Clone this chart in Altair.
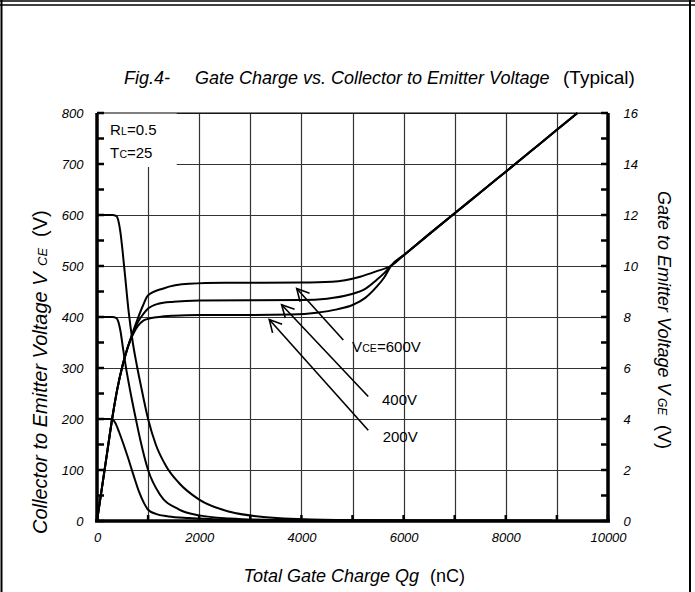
import math
import altair as alt
import pandas as pd

# ---------------- values ----------------
# Collector-emitter voltage VCE (V) versus total gate charge Qg (nC)
vce600_q = [0, 300, 380, 420, 460, 500, 550, 620, 700, 780, 860, 1000, 1150, 1350, 1600, 2000, 2600, 3250, 4200, 5500, 7000, 8900]
vce600_v = [600, 600, 598, 588, 565, 530, 480, 410, 350, 305, 265, 200, 150, 108, 75, 42, 18, 8, 3, 1.5, 1, 0.5]
vce400_q = [0, 300, 380, 420, 460, 500, 560, 650, 750, 850, 1000, 1230, 1600, 2000, 2600, 3500, 5000, 7000, 8900]
vce400_v = [400, 400, 398, 390, 372, 345, 305, 255, 205, 158, 100, 52, 23, 11, 5, 2, 1, 0.5, 0.3]
vce200_q = [0, 250, 320, 370, 430, 520, 620, 720, 820, 920, 1000, 1150, 1400, 1800, 2500, 3500, 5000, 7000, 8900]
vce200_v = [200, 200, 198, 190, 175, 150, 120, 88, 58, 35, 22, 14, 9, 6, 3, 1.5, 1, 0.5, 0.3]

# Gate-emitter voltage VGE (V) versus total gate charge Qg (nC)
vge200_q = [0, 100, 200, 300, 400, 500, 600, 700, 800, 900, 1000, 1200, 1500, 2000, 3000, 3800, 4300, 4700, 5000, 5250, 5470, 5620, 5760,
            6000, 6500, 7000, 7500, 8000, 8500, 9000, 9400]
vge200_v = [0, 1.35, 2.7, 4.05, 5.2, 6.1, 6.8, 7.3, 7.65, 7.85, 7.93, 8.0, 8.05, 8.08, 8.08, 8.1, 8.17, 8.3, 8.47, 8.75, 9.18, 9.55, 10.02,
            10.42, 11.25, 12.07, 12.88, 13.7, 14.52, 15.34, 16.0]
vge400_q = [0, 100, 200, 300, 400, 500, 600, 700, 800, 900, 1000, 1200, 1500, 2000, 3000, 4000, 4500, 4950, 5250, 5470, 5620, 5760,
            6000, 6500, 7000, 7500, 8000, 8500, 9000, 9400]
vge400_v = [0, 1.35, 2.7, 4.05, 5.2, 6.1, 6.8, 7.35, 7.8, 8.1, 8.33, 8.52, 8.6, 8.65, 8.66, 8.67, 8.72, 8.88, 9.1, 9.45, 9.72, 10.02,
            10.42, 11.25, 12.07, 12.88, 13.7, 14.52, 15.34, 16.0]
vge600_q = [0, 100, 200, 300, 400, 500, 600, 700, 800, 900, 1000, 1300, 1800, 2500, 4000, 4600, 5150, 5450, 5760,
            6000, 6500, 7000, 7500, 8000, 8500, 9000, 9400]
vge600_v = [0, 1.35, 2.7, 4.05, 5.2, 6.1, 6.8, 7.4, 7.95, 8.45, 8.85, 9.12, 9.3, 9.34, 9.35, 9.38, 9.58, 9.78, 10.02,
            10.42, 11.25, 12.07, 12.88, 13.7, 14.52, 15.34, 16.0]

# Annotation arrows (VCE axis units): tip on the VGE curve, tail near the label
arrow_tip_q = [3908, 3613, 3371]
arrow_tip_v = [456, 424, 395]
arrow_tail_q = [4820, 5308, 5308]
arrow_tail_v = [355, 244, 178]
label_q = [4990, 5577, 5590]
label_v = [341, 237, 165]
label_text = ["V", "400V", "200V"]

# Axis ticks
x_grid = list(range(0, 10001, 1000))
y_grid = list(range(0, 801, 100))
y2_labels = list(range(0, 17, 2))
left_tick_v = list(range(0, 801, 50))
right_tick_v = list(range(0, 17, 1))
bottom_tick_q = list(range(0, 10001, 1000))

# ---------------- chart ----------------
W, H = 511, 408
FONT = "Liberation Sans"


def frame(qs, vs, name):
    return pd.DataFrame({"q": qs, "v": vs, "curve": name})


vce_df = pd.concat([frame(vce600_q, vce600_v, "600"), frame(vce400_q, vce400_v, "400"),
                    frame(vce200_q, vce200_v, "200")])
vge_df = pd.concat([frame(vge600_q, vge600_v, "600"), frame(vge400_q, vge400_v, "400"),
                    frame(vge200_q, vge200_v, "200")])

arr = pd.DataFrame({"tq": arrow_tip_q, "tv": arrow_tip_v, "sq": arrow_tail_q, "sv": arrow_tail_v})
arr["ang"] = [
    math.degrees(math.atan2((a - c) * W / 10000, (b - d) * H / 800)) % 360
    for a, b, c, d in zip(arr.tq, arr.tv, arr.sq, arr.sv)
]
lab = pd.DataFrame({"q": label_q, "v": label_v, "t": label_text})

xsc = alt.Scale(domain=[0, 10000], nice=False, zero=False)
ysc = alt.Scale(domain=[0, 800], nice=False, zero=False)
ysc2 = alt.Scale(domain=[0, 16], nice=False, zero=False)

x_axis = alt.Axis(values=x_grid, grid=True, gridColor="#333333", gridWidth=1.2, domain=False, ticks=False,
                  labelExpr="datum.value % 2000 == 0 ? format(datum.value, 'd') : ''",
                  labelFont=FONT, labelFontSize=13, labelFontStyle="italic", labelColor="black",
                  labelPadding=10, labelFlush=False, labelOverlap=False, title=None, orient="bottom")
y_axis = alt.Axis(values=y_grid, grid=True, gridColor="#333333", gridWidth=1.2, domain=False, ticks=False,
                  format="d", labelFont=FONT, labelFontSize=13, labelFontStyle="italic", labelColor="black",
                  labelPadding=14, labelFlush=False, labelOverlap=False, title=None, orient="left")
y2_axis = alt.Axis(values=y2_labels, grid=False, domain=False, ticks=False, format="d",
                   labelFont=FONT, labelFontSize=13, labelFontStyle="italic", labelColor="black",
                   labelPadding=15, labelFlush=False, labelOverlap=False, title=None, orient="right")


def X(field):
    return alt.X(field, scale=xsc, axis=x_axis)


one = pd.DataFrame({"a": [0]})

box = alt.Chart(pd.DataFrame({"q1": [0], "q2": [1560], "v1": [694], "v2": [800]})).mark_rect(
    fill="white", strokeWidth=0).encode(
    x=X("q1:Q"), x2="q2:Q",
    y=alt.Y("v1:Q", scale=ysc, axis=y_axis), y2="v2:Q")

vce_lines = alt.Chart(vce_df).mark_line(color="black", strokeWidth=2, interpolate="monotone").encode(
    x=X("q:Q"), y=alt.Y("v:Q", scale=ysc, axis=None), detail="curve:N")

vge_lines = alt.Chart(vge_df).mark_line(color="black", strokeWidth=2, interpolate="monotone").encode(
    x=X("q:Q"), y=alt.Y("v:Q", scale=ysc2, axis=y2_axis), detail="curve:N")

shafts = alt.Chart(arr).mark_rule(color="black", strokeWidth=1.6).encode(
    x=X("sq:Q"), x2="tq:Q",
    y=alt.Y("sv:Q", scale=ysc, axis=None), y2="tv:Q")

heads = alt.Chart(arr).mark_point(shape="M-0.5,0.95L0,0L0.5,0.95", filled=False, color="black",
                                  strokeWidth=1.6, size=650, opacity=1).encode(
    x=X("tq:Q"), y=alt.Y("tv:Q", scale=ysc, axis=None),
    angle=alt.Angle("ang:Q", scale=None))

lab_main = alt.Chart(lab).mark_text(font=FONT, fontSize=15, align="left", baseline="alphabetic", dy=5,
                                    color="black").encode(
    x=X("q:Q"), y=alt.Y("v:Q", scale=ysc, axis=None), text="t:N")
lab_sub = alt.Chart(lab.iloc[[0]]).mark_text(font=FONT, fontSize=10.5, align="left", baseline="alphabetic",
                                             dx=10.2, dy=5, color="black", text="CE").encode(
    x=X("q:Q"), y=alt.Y("v:Q", scale=ysc, axis=None))
lab_rest = alt.Chart(lab.iloc[[0]]).mark_text(font=FONT, fontSize=15, align="left", baseline="alphabetic",
                                              dx=25, dy=5, color="black", text="=600V").encode(
    x=X("q:Q"), y=alt.Y("v:Q", scale=ysc, axis=None))


def txt(t, x, y, size=15, style="normal", align="left", angle=0, baseline="alphabetic"):
    kw = dict(font=FONT, fontSize=size, fontStyle=style, align=align, baseline=baseline,
              color="black", text=t)
    if angle:
        kw["angle"] = angle
    return alt.Chart(one).mark_text(**kw).encode(x=alt.value(x), y=alt.value(y))


texts = [
    # RL=0.5 / Tc=25 annotation
    txt("R", 13, 22), txt("L", 24, 22, size=10.5), txt("=0.5", 30, 22),
    txt("T", 13, 45), txt("C", 22.5, 45, size=10.5), txt("=25", 30, 45),
    # chart title
    txt("Fig.4-", 27, -29, size=18, style="italic"),
    txt("Gate Charge vs. Collector to Emitter Voltage", 98, -29, size=18, style="italic"),
    txt("(Typical)", 466, -29, size=19),
    # x title
    txt("Total Gate Charge Qg", 322, 469, size=18, style="italic", align="right"),
    txt("(nC)", 333, 469, size=18),
    # left title (reads upward)
    txt("Collector to Emitter Voltage V", -50, 421, size=20, style="italic", angle=270),
    txt("CE", -50, 421 - 268, size=13, style="italic", angle=270),
    txt("(V)", -50, 421 - 297, size=20, angle=270),
    # right title (reads downward)
    txt("Gate to Emitter Voltage V", 561, 78, size=18, style="italic", angle=90),
    txt("GE", 561, 78 + 207, size=12, style="italic", angle=90),
    txt("(V)", 561, 78 + 234, size=18, angle=90),
]


def rule(x=None, x2=None, y=None, y2=None, width=1.0):
    enc = {}
    for k, v in (("x", x), ("x2", x2), ("y", y), ("y2", y2)):
        if v is not None:
            enc[k] = alt.value(v)
    return alt.Chart(one).mark_rule(color="black", strokeWidth=width).encode(**enc)


frame_rules = [
    rule(x=0, y=0, y2=H, width=3.5),
    rule(x=W, y=0, y2=H, width=3.5),
    rule(x=-2, x2=W + 2, y=H, width=3.5),
    rule(x=0, x2=W, y=0, width=1.2),
    # outer border of the figure box
    rule(x=-95.5, y=-113, y2=479, width=2),
    rule(x=593, y=-113, y2=479, width=2),
    rule(x=-97, x2=598, y=-112, width=1.5),
    rule(x=-97, x2=598, y=-108, width=1.5),
]

left_ticks = alt.Chart(pd.DataFrame({"v": left_tick_v})).mark_rule(color="black", strokeWidth=2.5).encode(
    y=alt.Y("v:Q", scale=ysc, axis=None), x=alt.value(0), x2=alt.value(7))
right_ticks = alt.Chart(pd.DataFrame({"v": right_tick_v})).mark_rule(color="black", strokeWidth=2.5).encode(
    y=alt.Y("v:Q", scale=ysc2, axis=None), x=alt.value(W - 7), x2=alt.value(W))
bottom_ticks = alt.Chart(pd.DataFrame({"q": bottom_tick_q})).mark_rule(color="black", strokeWidth=2.5).encode(
    x=X("q:Q"), y=alt.value(H - 6), y2=alt.value(H))

chart = alt.layer(
    box, vce_lines, vge_lines, shafts, heads, lab_main, lab_sub, lab_rest,
    *texts, *frame_rules, left_ticks, right_ticks, bottom_ticks
).resolve_scale(y="independent").properties(
    width=W, height=H,
    autosize=alt.AutoSizeParams(type="none"),
    padding={"left": 97, "top": 113, "right": 87, "bottom": 71},
    background="white",
).configure_view(stroke=None)

chart.save("out.html", embed_options={"renderer": "svg", "actions": False})
